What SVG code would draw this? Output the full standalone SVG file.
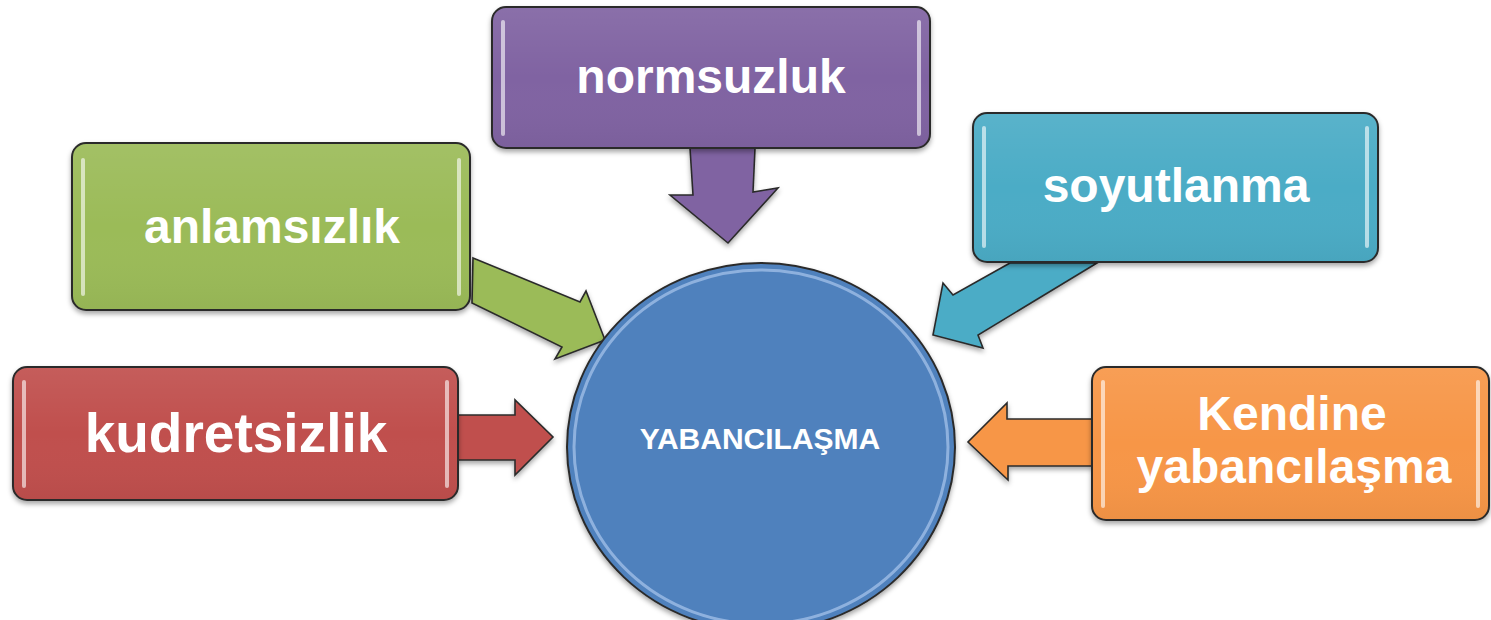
<svg xmlns="http://www.w3.org/2000/svg" width="1491" height="620" viewBox="0 0 1491 620">
  <defs>
    <filter id="shadow" x="-10%" y="-10%" width="120%" height="130%">
      <feDropShadow dx="0" dy="3" stdDeviation="2.5" flood-color="#000" flood-opacity="0.35"/>
    </filter>
    <linearGradient id="gloss" x1="0" y1="0" x2="0" y2="1">
      <stop offset="0" stop-color="#fff" stop-opacity="0.08"/>
      <stop offset="0.5" stop-color="#fff" stop-opacity="0"/>
      <stop offset="1" stop-color="#000" stop-opacity="0.04"/>
    </linearGradient>
  </defs>
  <style>
    .box { stroke: #2b2b2b; stroke-width: 2; filter: url(#shadow); }
    .hl { stroke: #ffffff; stroke-opacity: 0.6; stroke-width: 4; stroke-linecap: round; fill: none; }
    .lbl { font-family: "Liberation Sans", Arial, sans-serif; font-weight: bold; fill: #ffffff; text-anchor: middle; }
    .arrow { stroke: #2b2b2b; stroke-width: 1.6; stroke-linejoin: miter; filter: url(#shadow); }
  </style>

  <g id="connectors">
    <polygon class="arrow" fill="#8064A2" points="690,148 755,148 753,192 778,188 728,243 670,195 693,195"/>
    <polygon class="arrow" fill="#9BBB59" points="473,258 580,302 586,291 605,340 555,359 562,347 472,303"/>
    <polygon class="arrow" fill="#4BACC6" points="1010,263 953,295 943,283 933,335 983,348 978,335 1097,263"/>
    <polygon class="arrow" fill="#C0504D" points="458,415 515,415 515,400 553,437 515,475 515,460 458,460"/>
    <polygon class="arrow" fill="#F79646" points="1092,419 1007,419 1007,403 968,442 1008,480 1008,466 1092,466"/>
  </g>

  <g id="center">
    <ellipse cx="761" cy="447" rx="194" ry="184" fill="#4F81BD" stroke="#2b2b2b" stroke-width="2" filter="url(#shadow)"/>
    <ellipse cx="761" cy="447" rx="187" ry="177" fill="none" stroke="#a9c6ec" stroke-opacity="0.7" stroke-width="3"/>
    <text class="lbl" x="760" y="449" font-size="30">YABANCILAŞMA</text>
  </g>

  <g id="normsuzluk">
    <rect class="box" x="492" y="7" width="438" height="141" rx="14" fill="#8064A2"/>
    <rect x="493" y="8" width="436" height="139" rx="13" fill="url(#gloss)"/>
    <line class="hl" x1="503" y1="22" x2="503" y2="134"/>
    <line class="hl" x1="919" y1="22" x2="919" y2="134"/>
    <text class="lbl" x="711" y="93" font-size="48">normsuzluk</text>
  </g>

  <g id="anlamsizlik">
    <rect class="box" x="72" y="143" width="398" height="167" rx="14" fill="#9BBB59"/>
    <rect x="73" y="144" width="396" height="165" rx="13" fill="url(#gloss)"/>
    <line class="hl" x1="83" y1="160" x2="83" y2="294"/>
    <line class="hl" x1="459" y1="160" x2="459" y2="294"/>
    <text class="lbl" x="272" y="243" font-size="48">anlamsızlık</text>
  </g>

  <g id="soyutlanma">
    <rect class="box" x="973" y="113" width="405" height="149" rx="14" fill="#4BACC6"/>
    <rect x="974" y="114" width="403" height="147" rx="13" fill="url(#gloss)"/>
    <line class="hl" x1="984" y1="128" x2="984" y2="246"/>
    <line class="hl" x1="1367" y1="128" x2="1367" y2="246"/>
    <text class="lbl" x="1176" y="202" font-size="48">soyutlanma</text>
  </g>

  <g id="kudretsizlik">
    <rect class="box" x="13" y="367" width="445" height="133" rx="14" fill="#C0504D"/>
    <rect x="14" y="368" width="443" height="131" rx="13" fill="url(#gloss)"/>
    <line class="hl" x1="24" y1="382" x2="24" y2="486"/>
    <line class="hl" x1="447" y1="382" x2="447" y2="486"/>
    <text class="lbl" x="236" y="452" font-size="55">kudretsizlik</text>
  </g>

  <g id="kendine-yabancilasma">
    <rect class="box" x="1092" y="367" width="397" height="153" rx="14" fill="#F79646"/>
    <rect x="1093" y="368" width="395" height="151" rx="13" fill="url(#gloss)"/>
    <line class="hl" x1="1103" y1="382" x2="1103" y2="506"/>
    <line class="hl" x1="1478" y1="382" x2="1478" y2="506"/>
    <text class="lbl" x="1292" y="430" font-size="48">Kendine</text>
    <text class="lbl" x="1294" y="483" font-size="48">yabancılaşma</text>
  </g>
</svg>
